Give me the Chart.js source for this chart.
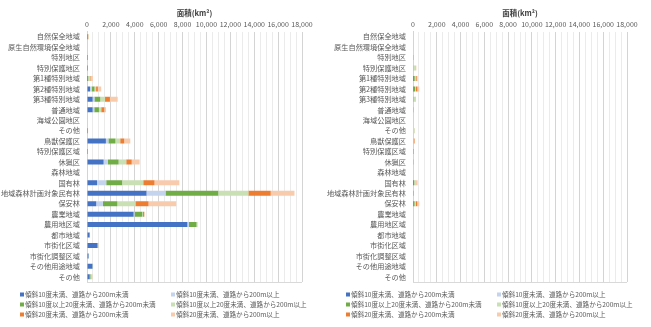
<!DOCTYPE html>
<html>
<head>
<meta charset="utf-8">
<script src="https://cdn.jsdelivr.net/npm/chart.js@4/dist/chart.umd.min.js"></script>
<style>
body { margin: 0; background: #fff; }
canvas { position: absolute; top: 0; }
#left { left: 0; }
#right { left: 326px; }
</style>
</head>
<body>
<canvas id="left" width="326" height="327"></canvas>
<canvas id="right" width="325" height="327"></canvas>
<script>
const categories = ['自然保全地域', '原生自然環境保全地域', '特別地区', '特別保護地区', '第1種特別地域', '第2種特別地域',
    '第3種特別地域', '普通地域', '海域公園地区', 'その他', '鳥獣保護区', '特別保護区域', '休猟区', '森林地域', '国有林',
    '地域森林計画対象民有林', '保安林', '農業地域', '農用地区域', '都市地域', '市街化区域', '市街化調整区域', 'その他用途地域', 'その他'];

const seriesNames = ['傾斜10度未満、道路から200m未満', '傾斜10度未満、道路から200m以上',
    '傾斜10度以上20度未満、道路から200m未満', '傾斜10度以上20度未満、道路から200m以上',
    '傾斜20度未満、道路から200m未満', '傾斜20度未満、道路から200m以上'];
const seriesColors = ['#4472C4', '#C5D4EE', '#70AD47', '#C9E0B5', '#ED7D31', '#F8CBAD'];

const xTicks = [0, 2000, 4000, 6000, 8000, 10000, 12000, 14000, 16000, 18000];

// left chart
const leftS1 = [20, 0, 10, 5, 10, 250, 470, 470, 0, 10, 1580, 10, 1390, 0, 840, 4980, 770, 3900, 8400, 220, 880, 130, 450, 230];
const leftS2 = [5, 0, 5, 5, 10, 140, 150, 140, 0, 5, 210, 0, 360, 0, 770, 1590, 560, 80, 120, 10, 30, 10, 20, 30];
const leftS3 = [50, 0, 10, 10, 80, 240, 490, 390, 0, 20, 590, 5, 895, 0, 1330, 4420, 1210, 650, 650, 10, 20, 10, 20, 50];
const leftS4 = [30, 0, 20, 10, 170, 130, 400, 190, 0, 40, 400, 5, 640, 0, 1770, 2520, 1510, 60, 40, 5, 10, 5, 10, 120];
const leftS5 = [20, 0, 10, 10, 50, 150, 410, 260, 0, 5, 335, 0, 460, 0, 940, 1870, 1100, 100, 20, 0, 5, 0, 5, 10];
const leftS6 = [20, 0, 20, 30, 170, 280, 650, 140, 0, 10, 510, 0, 660, 0, 2080, 1990, 2320, 30, 10, 0, 5, 0, 5, 10];

// right chart
const rightS1 = [0, 0, 0, 0, 10, 20, 0, 0, 0, 0, 0, 0, 0, 0, 10, 0, 10, 0, 0, 0, 0, 0, 0, 0];
const rightS2 = [0, 0, 0, 0, 0, 0, 0, 0, 0, 0, 0, 0, 0, 0, 0, 0, 10, 0, 0, 0, 0, 0, 0, 0];
const rightS3 = [0, 0, 20, 60, 130, 150, 70, 20, 0, 40, 30, 5, 20, 0, 90, 5, 110, 0, 0, 0, 0, 0, 0, 0];
const rightS4 = [0, 0, 50, 100, 80, 80, 120, 30, 0, 100, 40, 5, 50, 0, 120, 5, 100, 0, 0, 0, 0, 0, 0, 0];
const rightS5 = [0, 0, 0, 20, 90, 120, 20, 0, 0, 0, 50, 0, 0, 0, 30, 0, 120, 0, 0, 0, 0, 0, 0, 0];
const rightS6 = [0, 0, 10, 100, 80, 160, 40, 10, 0, 30, 50, 0, 10, 0, 140, 0, 180, 0, 0, 0, 0, 0, 0, 0];

const fontFamily = '"Noto Sans CJK JP", "Noto Sans", sans-serif';
const textColor = '#595959';

const legendPlugin = {
    id: 'twoColLegend',
    afterDraw(chart) {
        const c = chart.ctx;
        const area = chart.chartArea;
        c.save();
        // bottom edge of plot
        c.strokeStyle = '#d9d9d9';
        c.lineWidth = 1;
        c.beginPath();
        c.moveTo(area.left, Math.round(area.bottom) + 0.5);
        c.lineTo(area.right, Math.round(area.bottom) + 0.5);
        c.stroke();

        c.font = '6.6px ' + fontFamily;
        c.textBaseline = 'middle';
        chart.data.datasets.forEach((d, i) => {
            const x = i % 2 ? 171 : 20;
            const y = 294.5 + Math.floor(i / 2) * 10;
            c.fillStyle = d.backgroundColor;
            c.fillRect(x, y - 2, 4, 4);
            c.fillStyle = textColor;
            c.fillText(d.label, x + 5, y);
        });
        c.restore();
    }
};

function makeChart(id, series) {
    const ctx = document.getElementById(id).getContext('2d');
    let dataSets = [];
    series.forEach((values, index) => {
        dataSets.push({
            label: seriesNames[index],
            data: values,
            backgroundColor: seriesColors[index],
            borderWidth: 0,
            categoryPercentage: 0.48,
            barPercentage: 1
        });
    });

    return new Chart(ctx, {
        type: 'bar',
        data: {
            labels: categories,
            datasets: dataSets
        },
        plugins: [legendPlugin],
        options: {
            responsive: false,
            animation: false,
            indexAxis: 'y',
            layout: {padding: {top: 0, right: 24, bottom: 45, left: 0}},
            plugins: {
                legend: {display: false},
                tooltip: {enabled: false}
            },
            scales: {
                x: {
                    position: 'top',
                    stacked: true,
                    min: xTicks[0],
                    max: xTicks[xTicks.length - 1],
                    ticks: {
                        stepSize: 500,
                        autoSkip: false,
                        maxRotation: 0,
                        minRotation: 0,
                        padding: 3,
                        color: textColor,
                        font: {size: 7, family: fontFamily},
                        callback: v => xTicks.includes(v) ? v.toLocaleString('en-US') : ''
                    },
                    grid: {
                        drawTicks: false,
                        color: c => (c.tick && xTicks.includes(c.tick.value)) ? '#d4d4d4' : '#ebebeb'
                    },
                    border: {display: false},
                    title: {
                        display: true,
                        text: '面積(km²)',
                        color: '#404040',
                        font: {size: 7.5, weight: 'bold', family: fontFamily},
                        padding: {top: 9, bottom: 0}
                    },
                    afterFit: s => { s.height = 31.5; }
                },
                y: {
                    stacked: true,
                    ticks: {
                        autoSkip: false,
                        padding: 7,
                        color: textColor,
                        font: {size: 7.2, family: fontFamily}
                    },
                    grid: {display: false, drawTicks: false},
                    border: {display: true, color: '#d4d4d4'},
                    afterFit: s => { s.width = 87; }
                }
            }
        }
    });
}

makeChart('left', [leftS1, leftS2, leftS3, leftS4, leftS5, leftS6]);
makeChart('right', [rightS1, rightS2, rightS3, rightS4, rightS5, rightS6]);
</script>
</body>
</html>
